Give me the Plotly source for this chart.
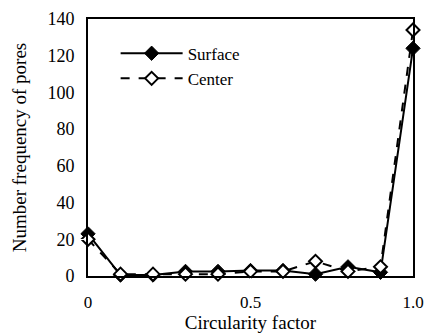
import plotly.graph_objects as go

x_vals = [0, 0.1, 0.2, 0.3, 0.4, 0.5, 0.6, 0.7, 0.8, 0.9, 1.0]
surface = [23, 0.5, 0.5, 2.5, 2.5, 3, 3, 1, 5, 2, 124]
center = [20, 1, 1, 1, 1, 2.5, 2.5, 8, 2.5, 5, 134]
x_ticks = [0, 0.5, 1.0]
x_tick_text = ["0", "0.5", "1.0"]
y_ticks = [0, 20, 40, 60, 80, 100, 120, 140]

fig = go.Figure()
fig.add_trace(go.Scatter(
    x=x_vals, y=surface, name="Surface", mode="lines+markers", cliponaxis=False,
    line=dict(color="black", width=2),
    marker=dict(symbol="diamond", size=11, color="black", line=dict(color="black", width=1)),
))
fig.add_trace(go.Scatter(
    x=x_vals, y=center, name="Center", mode="lines+markers", cliponaxis=False,
    line=dict(color="black", width=2, dash="dash"),
    marker=dict(symbol="diamond", size=10, color="white", line=dict(color="black", width=2)),
))

fig.update_layout(
    width=432, height=333,
    margin=dict(l=88, r=19, t=19, b=57),
    paper_bgcolor="white", plot_bgcolor="white",
    font=dict(family="Liberation Serif", size=16, color="black"),
    showlegend=True,
    legend=dict(x=0.085, y=0.935, xanchor="left", yanchor="top",
                bgcolor="rgba(0,0,0,0)", itemwidth=62, font=dict(size=17)),
    xaxis=dict(
        range=[0, 1.0], tickvals=x_ticks, ticktext=x_tick_text, automargin=False,
        showgrid=False, zeroline=False, showline=True, linecolor="black", linewidth=2,
        mirror=True, ticks="outside", ticklen=10, tickcolor="white",
        title=dict(text="Circularity factor", standoff=7),
        tickfont=dict(size=17),
    ),
    yaxis=dict(
        range=[0, 140], tickvals=y_ticks, automargin=False,
        showgrid=False, zeroline=False, showline=True, linecolor="black", linewidth=2,
        mirror=True, ticks="outside", ticklen=8, tickcolor="white",
        title=dict(text="Number frequency of pores", standoff=16),
        tickfont=dict(size=18),
    ),
)

fig.write_html("out.html")
